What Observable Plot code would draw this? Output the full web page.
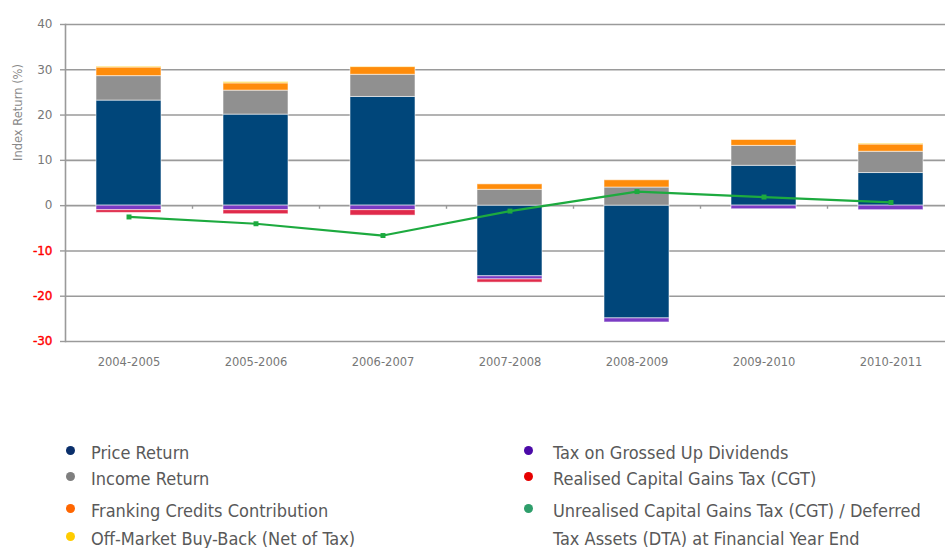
<!DOCTYPE html>
<html>
<head>
<meta charset="utf-8">
<script src="https://cdn.jsdelivr.net/npm/d3@7"></script>
<script src="https://cdn.jsdelivr.net/npm/@observablehq/plot@0.6"></script>
<style>
  body { margin: 0; background: #fff; }
  #wrap { position: relative; width: 945px; height: 548px; overflow: hidden; }
  #legend { position: relative; width: 945px; height: 168px; font-family: "DejaVu Sans Condensed", "Liberation Sans Narrow", sans-serif; font-size: 18px; color: #595959; }
  .item { position: absolute; white-space: nowrap; line-height: 28px; }
  .dot { position: absolute; width: 9px; height: 9px; border-radius: 50%; }
</style>
</head>
<body>
<div id="wrap">
  <div id="chart"></div>
  <div id="legend"></div>
</div>
<script>
const years = ["2004-2005","2005-2006","2006-2007","2007-2008","2008-2009","2009-2010","2010-2011"];
const priceReturn   = [23.2, 20.1, 24.0, -15.6, -24.9, 8.8, 7.2];
const incomeReturn  = [5.4, 5.3, 4.9, 3.5, 4.0, 4.4, 4.7];
const frankingCredits = [1.9, 1.6, 1.7, 1.2, 1.6, 1.3, 1.6];
const offMarketBuyBack = [0.2, 0.3, 0.1, 0, 0, 0, 0.2];
const taxOnDividends = [-1.0, -1.0, -1.0, -0.7, -0.9, -0.8, -1.0];
const realisedCGT   = [-0.6, -0.9, -1.2, -0.7, 0, 0, 0];
const unrealisedCGT = [-2.5, -4.0, -6.6, -1.2, 3.1, 1.9, 0.7];
const yTicks = [-30, -20, -10, 0, 10, 20, 30, 40];

const seriesNames = ["Price Return","Income Return","Franking Credits Contribution","Off-Market Buy-Back (Net of Tax)","Tax on Grossed Up Dividends","Realised Capital Gains Tax (CGT)"];
const seriesValues = [priceReturn, incomeReturn, frankingCredits, offMarketBuyBack, taxOnDividends, realisedCGT];
const barColors = ["#00467A","#909090","#FF8C0A","#FFD21E","#7A3BC4","#E02A4A"];

const stacked = [];
seriesNames.forEach((s, i) => years.forEach((yr, j) => stacked.push({year: yr, series: s, value: seriesValues[i][j]})));
const lineData = years.map((yr, j) => ({year: yr, value: unrealisedCGT[j]}));

const chart = Plot.plot({
  width: 945,
  height: 380,
  marginTop: 24,
  marginBottom: 39,
  marginLeft: 65,
  marginRight: 0,
  style: {fontFamily: "'DejaVu Sans', sans-serif", background: "transparent"},
  x: {domain: years, range: [65, 954], paddingInner: 0.49, paddingOuter: 0.245, axis: null},
  y: {domain: [-30, 40], axis: null},
  color: {domain: seriesNames, range: barColors},
  marks: [
    Plot.gridY(yTicks, {stroke: "#9a9a9a", strokeOpacity: 1, strokeWidth: 1.6}),
    Plot.frame({anchor: "left", stroke: "#9a9a9a", strokeWidth: 1.6}),
    Plot.axisY(yTicks, {tickSize: 5, tickFormat: () => "", stroke: "#9a9a9a", strokeWidth: 1.4, label: null}),
    Plot.text(yTicks.filter(d => d >= 0), {y: d => d, text: d => String(d), frameAnchor: "left", textAnchor: "end", dx: -13, fontSize: 12, fill: "#777777"}),
    Plot.text(yTicks.filter(d => d < 0), {y: d => d, text: d => String(d), frameAnchor: "left", textAnchor: "end", dx: -13, fontSize: 12, fill: "#FF0000", stroke: "#FF0000", strokeWidth: 0.4}),
    Plot.text(["Index Return (%)"], {frameAnchor: "left", rotate: -90, dx: -47, dy: -22, fontSize: 11.5, fill: "#888888"}),
    Plot.text(years, {x: d => d, text: d => d, frameAnchor: "bottom", lineAnchor: "middle", dy: 21, fontSize: 11.5, fill: "#777777"}),
    Plot.ruleX(years.slice(0, -1), {x: d => d, y1: 0, y2: -0.8, dx: 63.5, stroke: "#9a9a9a", strokeWidth: 1.4}),
    Plot.barY(stacked, Plot.stackY({x: "year", y: "value", fill: "series", stroke: "rgba(255,255,255,0.55)", strokeWidth: 1})),
    Plot.line(lineData, {x: "year", y: "value", stroke: "#1DAA3F", strokeWidth: 2.2}),
    Plot.dot(lineData, {x: "year", y: "value", symbol: "square", r: 2.8, fill: "#1DAA3F"})
  ]
});
document.getElementById("chart").appendChild(chart);

// Legend
const legendNames = ["Price Return","Income Return","Franking Credits Contribution","Off-Market Buy-Back (Net of Tax)","Tax on Grossed Up Dividends","Realised Capital Gains Tax (CGT)","Unrealised Capital Gains Tax (CGT) / Deferred\nTax Assets (DTA) at Financial Year End"];
const legendColors = ["#0A2F6B","#7F7F7F","#FF6600","#FFCC00","#4B0AA8","#E60000","#2E9E6B"];
const legendPos = [[0,0],[0,1],[0,2],[0,3],[1,0],[1,1],[1,2]];
const rowTop = [73, 99, 131, 159];
const colDot = [66, 524];
const colText = [91, 553];
const legend = document.getElementById("legend");
legendNames.forEach((name, i) => {
  const [c, r] = legendPos[i];
  const d = document.createElement("div");
  d.className = "dot";
  d.style.left = colDot[c] + "px";
  d.style.top = (rowTop[r] - 7) + "px";
  d.style.background = legendColors[i];
  legend.appendChild(d);
  const t = document.createElement("div");
  t.className = "item";
  t.style.left = colText[c] + "px";
  t.style.top = (rowTop[r] - 14) + "px";
  t.innerHTML = name.replace("\n", "<br>");
  legend.appendChild(t);
});
</script>
</body>
</html>
